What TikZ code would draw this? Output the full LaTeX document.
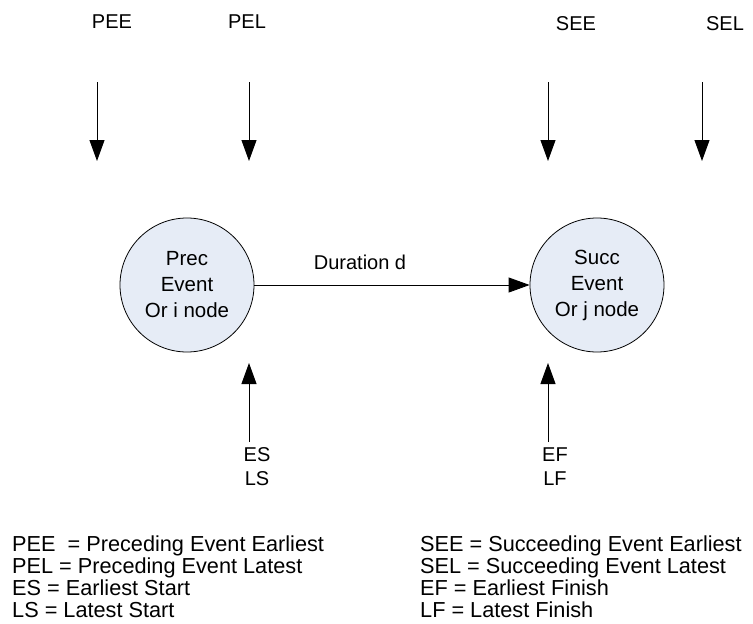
\documentclass[tikz,border=0pt]{standalone}
\usepackage{fontspec}
\setmainfont{Liberation Sans}
\usetikzlibrary{arrows.meta}
\definecolor{evfill}{RGB}{230,236,246}
\begin{document}
\begin{tikzpicture}[x=1pt,y=-1pt,
  lbl/.style={font=\fontsize{20}{24}\selectfont, inner sep=0pt},
  leg/.style={font=\fontsize{21.7}{23}\selectfont, inner sep=0pt, anchor=base west},
  ev/.style={circle, draw, fill=evfill, minimum size=134pt, inner sep=0pt,
    align=center, font=\fontsize{20.5}{26}\selectfont, line width=0.8pt},
  arr/.style={-{Triangle[length=21pt,width=15pt]}, line width=0.9pt}]
\useasboundingbox (0,0) rectangle (753,624);
% events
\node[ev] (i) at (187,285) {Prec\\Event\\Or i node};
\node[ev] (j) at (597,285) {Succ\\Event\\Or j node};
\draw[arr] (i) -- (j);
\node[lbl] (dur) at (360,262) {Duration d};
% top labels and arrows
\node[lbl] (pee) at (112,22) {PEE};
\node[lbl] (pel) at (247,22) {PEL};
\node[lbl] (see) at (576,24) {SEE};
\node[lbl] (sel) at (725,24) {SEL};
\coordinate (a1s) at (97,82);  \coordinate (a1e) at (97,161);
\coordinate (a2s) at (249,82); \coordinate (a2e) at (249,161);
\coordinate (a3s) at (548,82); \coordinate (a3e) at (548,161);
\coordinate (a4s) at (702,82); \coordinate (a4e) at (702,161);
\draw[arr] (a1s) -- (a1e);
\draw[arr] (a2s) -- (a2e);
\draw[arr] (a3s) -- (a3e);
\draw[arr] (a4s) -- (a4e);
% bottom labels and arrows
\node[lbl, align=center] (esls) at (257,467) {ES\\LS};
\node[lbl, align=center] (eflf) at (555,467) {EF\\LF};
\coordinate (b1s) at (249,442); \coordinate (b1e) at (249,363);
\coordinate (b2s) at (548,442); \coordinate (b2e) at (548,363);
\draw[arr] (b1s) -- (b1e);
\draw[arr] (b2s) -- (b2e);
% legend
\node[leg] (l1) at (12,551) {PEE\ \ = Preceding Event Earliest};
\node[leg] (l2) at (12,573) {PEL = Preceding Event Latest};
\node[leg] (l3) at (12,595) {ES = Earliest Start};
\node[leg] (l4) at (12,617) {LS = Latest Start};
\node[leg] (r1) at (420,551) {SEE = Succeeding Event Earliest};
\node[leg] (r2) at (420,573) {SEL = Succeeding Event Latest};
\node[leg] (r3) at (420,595) {EF = Earliest Finish};
\node[leg] (r4) at (420,617) {LF = Latest Finish};
\end{tikzpicture}
\end{document}
